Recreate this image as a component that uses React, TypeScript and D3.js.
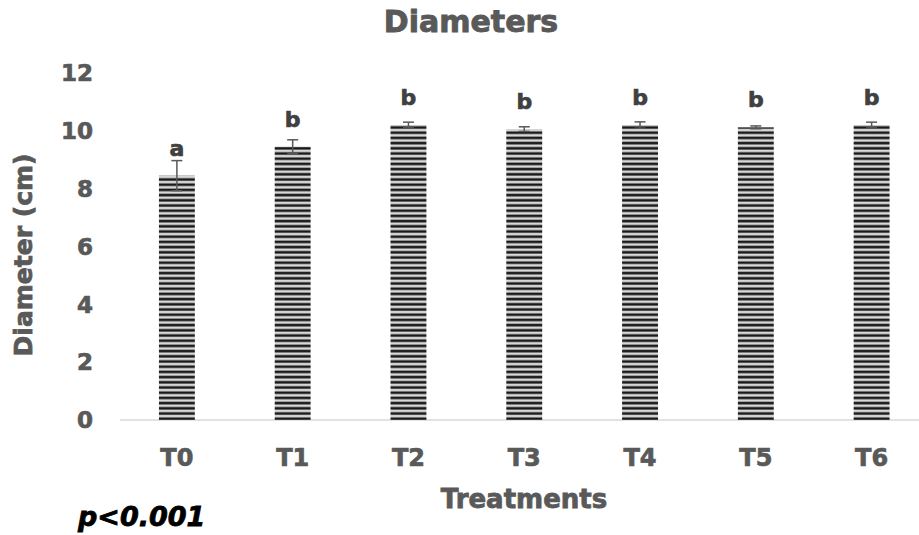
import React from 'react';
import * as d3 from 'd3';

const treatments = ['T0', 'T1', 'T2', 'T3', 'T4', 'T5', 'T6'];
const diameters = [8.45, 9.45, 10.2, 10.06, 10.2, 10.12, 10.2];
const errors = [0.52, 0.24, 0.1, 0.08, 0.11, 0.05, 0.1];
const groups = ['a', 'b', 'b', 'b', 'b', 'b', 'b'];
const yTicks = [0, 2, 4, 6, 8, 10, 12];

const FONT = '"DejaVu Sans", sans-serif';

const App = () => {
    const svgRef = React.useRef<SVGSVGElement>(null);

    const width = 919;
    const height = 535;

    React.useEffect(() => {
        const svg = d3.select(svgRef.current);
        svg.selectAll('*').remove();

        // stripe fill
        const pat = svg.append('defs')
            .append('pattern')
            .attr('id', 'stripes')
            .attr('patternUnits', 'userSpaceOnUse')
            .attr('width', 8)
            .attr('height', 5.2);
        pat.append('rect').attr('width', 8).attr('height', 5.2).attr('fill', '#d8d8d8');
        pat.append('rect').attr('y', 1.4).attr('width', 8).attr('height', 2.6).attr('fill', '#1a1a1a');

        const x = d3.scaleBand()
            .domain(treatments)
            .range([119, 929.5])
            .paddingInner(0.69)
            .paddingOuter(0.345);

        const y = d3.scaleLinear()
            .domain([0, 12])
            .range([420, 73]);

        // heavier text, the source font is close to Arial Black
        const label = (sel, size, color = '#595959', heavy = 0.7) => sel
            .style('font-family', FONT)
            .style('font-weight', 'bold')
            .style('font-size', size)
            .attr('fill', color)
            .attr('stroke', color)
            .attr('stroke-width', heavy);

        // x axis line
        svg.append('line')
            .attr('x1', 120).attr('x2', 919)
            .attr('y1', y(0)).attr('y2', y(0))
            .attr('stroke', '#d9d9d9')
            .attr('stroke-width', 1.5);

        // bars
        svg.append('g')
            .selectAll('rect')
            .data(diameters)
            .enter()
            .append('rect')
            .attr('x', (d, i) => x(treatments[i])!)
            .attr('y', (d) => y(d))
            .attr('width', x.bandwidth())
            .attr('height', (d) => y(0) - y(d))
            .attr('fill', 'url(#stripes)');

        // error bars
        const eb = svg.append('g')
            .attr('stroke', '#595959')
            .attr('stroke-width', 1.5);
        diameters.forEach((d, i) => {
            const cx = x(treatments[i])! + x.bandwidth() / 2;
            eb.append('line')
                .attr('x1', cx).attr('x2', cx)
                .attr('y1', y(d - errors[i])).attr('y2', y(d + errors[i]));
            eb.append('line')
                .attr('x1', cx - 5.5).attr('x2', cx + 5.5)
                .attr('y1', y(d + errors[i])).attr('y2', y(d + errors[i]));
            eb.append('line')
                .attr('x1', cx - 5.5).attr('x2', cx + 5.5)
                .attr('y1', y(d - errors[i])).attr('y2', y(d - errors[i]));
        });

        // significance letters
        svg.append('g')
            .selectAll('text')
            .data(groups)
            .enter()
            .append('text')
            .attr('x', (d, i) => x(treatments[i])! + x.bandwidth() / 2)
            .attr('y', (d, i) => y(diameters[i]) - 20)
            .style('text-anchor', 'middle')
            .call(label, '22px', '#404040')
            .text((d) => d);

        // y tick labels
        svg.append('g')
            .selectAll('text')
            .data(yTicks)
            .enter()
            .append('text')
            .attr('x', 93)
            .attr('y', (d) => y(d))
            .attr('dy', '0.36em')
            .style('text-anchor', 'end')
            .call(label, '23px')
            .text((d) => d);

        // x tick labels
        svg.append('g')
            .selectAll('text')
            .data(treatments)
            .enter()
            .append('text')
            .attr('x', (d) => x(d)! + x.bandwidth() / 2)
            .attr('y', 466)
            .style('text-anchor', 'middle')
            .call(label, '24px')
            .text((d) => d);

        svg.append('text')
            .attr('x', 471)
            .attr('y', 32)
            .style('text-anchor', 'middle')
            .call(label, '30px', '#595959', 0.9)
            .text('Diameters');

        svg.append('text')
            .attr('x', 524)
            .attr('y', 508)
            .style('text-anchor', 'middle')
            .call(label, '26px', '#595959', 0.8)
            .text('Treatments');

        svg.append('text')
            .attr('transform', 'translate(23,255) rotate(-90)')
            .attr('dy', '0.36em')
            .style('text-anchor', 'middle')
            .call(label, '25px', '#595959', 0.8)
            .text('Diameter (cm)');

        svg.append('text')
            .attr('x', 78)
            .attr('y', 526)
            .style('font-style', 'italic')
            .call(label, '27px', '#000', 0.8)
            .text('p<0.001');
    }, []);

    return (
        <svg
            ref={svgRef}
            width={width}
            height={height}
            style={{ position: 'absolute', left: 0, top: 0, background: '#fff' }}
        />
    );
};

export default App;
